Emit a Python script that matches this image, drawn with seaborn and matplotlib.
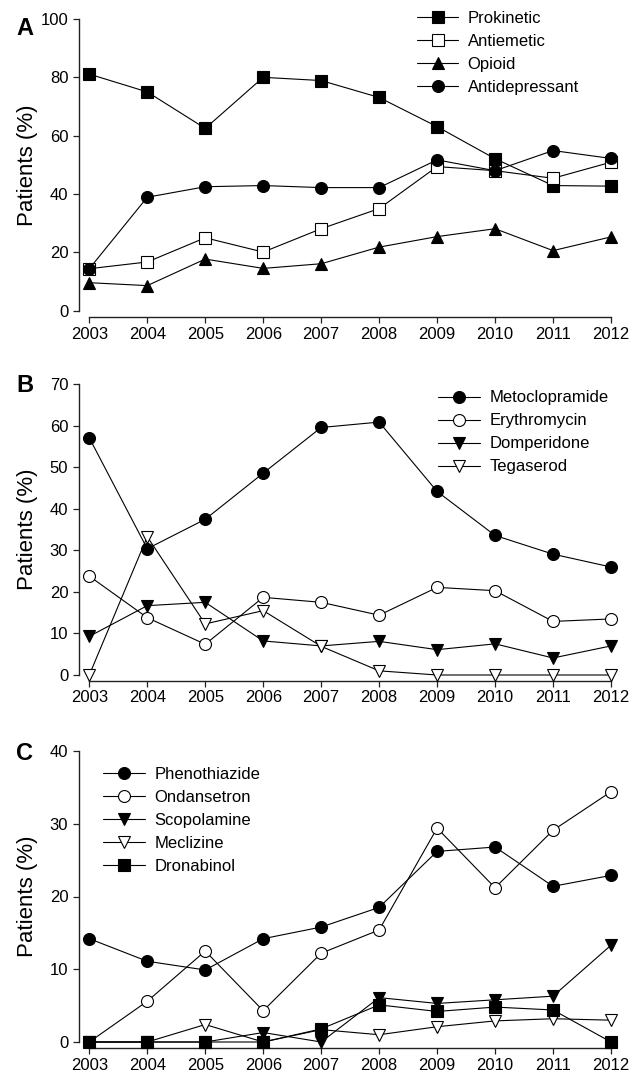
import matplotlib
matplotlib.use("Agg")
import matplotlib.pyplot as plt
import numpy as np
import pandas as pd
import seaborn as sns

# ---------------- data ----------------
years = [2003, 2004, 2005, 2006, 2007, 2008, 2009, 2010, 2011, 2012]

# Panel A
prokinetic = [81.1, 75.0, 62.5, 80.0, 78.9, 73.1, 63.1, 52.1, 42.9, 42.7]
antiemetic = [14.4, 16.7, 25.0, 20.1, 28.1, 35.0, 49.4, 48.0, 45.4, 50.9]
opioid = [9.6, 8.6, 17.7, 14.5, 16.1, 21.8, 25.4, 28.1, 20.6, 25.3]
antidepressant = [14.4, 38.9, 42.5, 42.9, 42.2, 42.2, 51.7, 48.0, 54.9, 52.2]

# Panel B
metoclopramide = [57.1, 30.4, 37.5, 48.6, 59.6, 60.9, 44.2, 33.6, 29.1, 26.0]
erythromycin = [23.8, 13.8, 7.4, 18.7, 17.5, 14.4, 21.1, 20.3, 12.9, 13.5]
domperidone = [9.3, 16.7, 17.5, 8.2, 7.0, 8.1, 6.1, 7.5, 4.1, 7.0]
tegaserod = [0.0, 33.3, 12.3, 15.5, 6.9, 1.0, 0.0, 0.0, 0.0, 0.0]

# Panel C
phenothiazide = [14.2, 11.1, 9.9, 14.2, 15.8, 18.5, 26.2, 26.8, 21.4, 22.9]
ondansetron = [0.0, 5.6, 12.5, 4.3, 12.2, 15.4, 29.4, 21.2, 29.1, 34.4]
scopolamine = [0.0, 0.0, 0.0, 1.3, 0.0, 6.1, 5.3, 5.8, 6.3, 13.3]
meclizine = [0.0, 0.0, 2.4, 0.0, 1.7, 1.0, 2.1, 2.9, 3.2, 3.0]
dronabinol = [0.0, 0.0, 0.0, 0.0, 1.8, 5.1, 4.2, 4.8, 4.4, 0.0]

y_label = "Patients (%)"

# ---------------- style ----------------
sns.set_style("ticks")
plt.rcParams["font.family"] = ["Liberation Sans", "DejaVu Sans"]
plt.rcParams["text.color"] = "black"
plt.rcParams["axes.labelcolor"] = "black"
plt.rcParams["xtick.color"] = "black"
plt.rcParams["ytick.color"] = "black"

W, H = 632, 1077
fig = plt.figure(figsize=(W / 100, H / 100), dpi=100)

AX_LEFT, AX_RIGHT = 79, 625
X2003, X2012 = 89.3, 611.0
per_year = (X2012 - X2003) / 9.0
xlim = (2003 - (X2003 - AX_LEFT) / per_year, 2012 + (AX_RIGHT - X2012) / per_year)

panels = [
    dict(letter="A", letter_base=35, top=19.0, zero=310.7, spine=317.3, ymax=100, step=20,
         legend=(416.7, 17.3),
         series=[("Prokinetic", prokinetic, "s", "black"),
                 ("Antiemetic", antiemetic, "s", "white"),
                 ("Opioid", opioid, "^", "black"),
                 ("Antidepressant", antidepressant, "o", "black")]),
    dict(letter="B", letter_base=391.7, top=384.3, zero=675.0, spine=680.7, ymax=70, step=10,
         legend=(438.3, 397.0),
         series=[("Metoclopramide", metoclopramide, "o", "black"),
                 ("Erythromycin", erythromycin, "o", "white"),
                 ("Domperidone", domperidone, "v", "black"),
                 ("Tegaserod", tegaserod, "v", "white")]),
    dict(letter="C", letter_base=760.5, top=751.0, zero=1042.0, spine=1048.3, ymax=40, step=10,
         legend=(103.3, 773.3),
         series=[("Phenothiazide", phenothiazide, "o", "black"),
                 ("Ondansetron", ondansetron, "o", "white"),
                 ("Scopolamine", scopolamine, "v", "black"),
                 ("Meclizine", meclizine, "v", "white"),
                 ("Dronabinol", dronabinol, "s", "black")]),
]

msize = {"s": 8.0, "o": 8.6, "^": 9.2, "v": 9.2}

for p in panels:
    rect = [AX_LEFT / W, 1 - p["spine"] / H, (AX_RIGHT - AX_LEFT) / W, (p["spine"] - p["top"]) / H]
    ax = fig.add_axes(rect)
    ppu = (p["zero"] - p["top"]) / p["ymax"]
    ylow = -(p["spine"] - p["zero"]) / ppu

    for i, (name, vals, mk, fc) in enumerate(p["series"]):
        df = pd.DataFrame({"year": years, "value": vals})
        sns.lineplot(data=df, x="year", y="value", ax=ax, color="black", linewidth=0.8,
                     marker=mk, markersize=msize[mk], markerfacecolor=fc,
                     markeredgecolor="black", markeredgewidth=0.8, label=name,
                     clip_on=False, zorder=3 + i, legend=False)

    ax.set_xlim(*xlim)
    ax.set_ylim(ylow, p["ymax"])
    ax.set_xticks(years)
    ax.set_xticklabels([str(y) for y in years])
    ax.set_yticks(np.arange(0, p["ymax"] + 1, p["step"]))
    ax.set_xlabel("")
    ax.set_ylabel(y_label, fontsize=16, va="center", ha="center")
    center_px = (p["top"] + p["zero"]) / 2
    ax.yaxis.set_label_coords(27 / W, 1 - center_px / H, transform=fig.transFigure)

    sns.despine(ax=ax)
    for s in ["left", "bottom"]:
        ax.spines[s].set_linewidth(1.0)
        ax.spines[s].set_color("#222222")
    ax.spines["left"].set_bounds(0, p["ymax"])
    ax.spines["bottom"].set_bounds(2003, 2012)
    ax.tick_params(axis="both", labelsize=12, length=4.3, width=0.9, color="#222222")
    ax.tick_params(axis="y", pad=3.4)
    ax.tick_params(axis="x", pad=2.5)

    lx, ly = p["legend"]
    ax.legend(loc="upper left", bbox_to_anchor=(lx / W, 1 - (ly - 6.5) / H),
              bbox_transform=fig.transFigure, frameon=False, borderpad=0,
              borderaxespad=0, handlelength=2.5, handletextpad=0.55,
              labelspacing=0.48, fontsize=12)

    fig.text(16 / W, 1 - p["letter_base"] / H, p["letter"], fontsize=17,
             fontweight="bold", ha="left", va="baseline")

fig.savefig("out.png", dpi=100)
